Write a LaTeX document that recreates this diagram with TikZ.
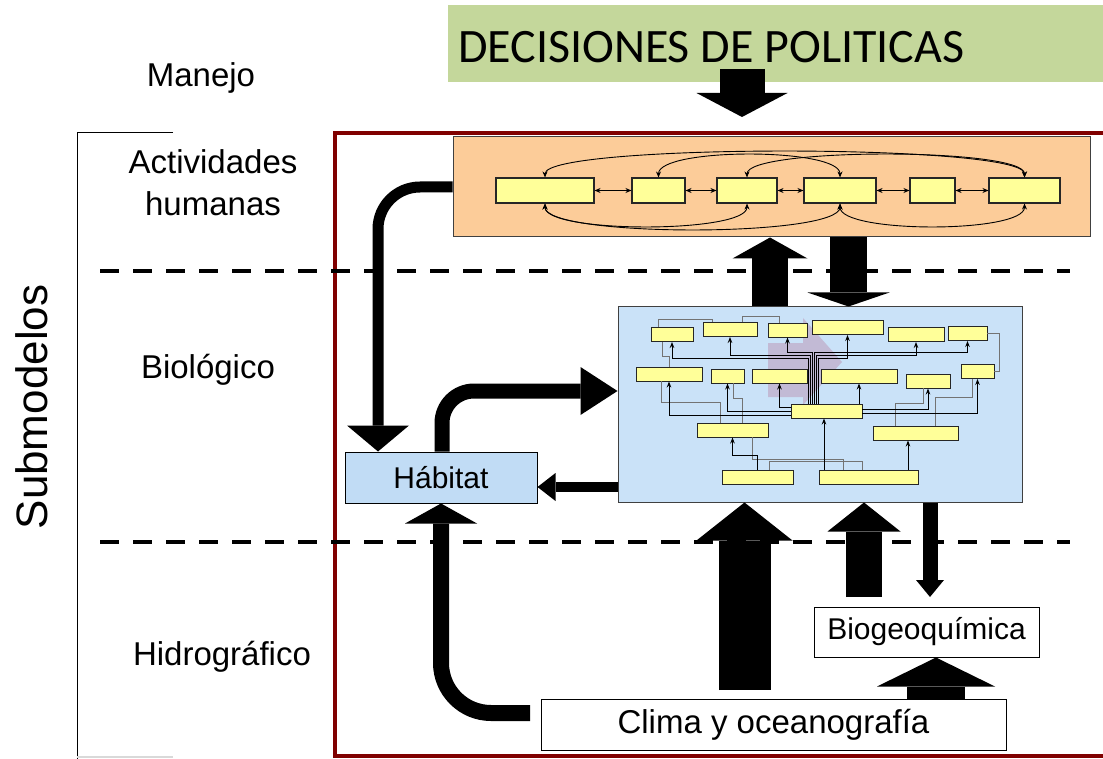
\documentclass[tikz,border=0pt]{standalone}
\usepackage{fontspec}
\setmainfont{Liberation Sans}
\newfontfamily\calibri{Carlito}
\usetikzlibrary{arrows.meta}
\definecolor{redframe}{RGB}{128,0,0}
\definecolor{greenbox}{RGB}{196,215,155}
\definecolor{orangebox}{RGB}{252,204,153}
\definecolor{bluebox}{RGB}{202,226,248}
\definecolor{habbox}{RGB}{193,220,245}
\definecolor{ylw}{RGB}{255,255,153}
\definecolor{mauve}{RGB}{190,160,190}

\begin{document}
\begin{tikzpicture}[x=1pt,y=-1pt,
  lbl/.style={font=\fontsize{33}{42}\selectfont, align=center},
  sbox/.style={draw, line width=1pt, inner sep=0pt},
  ybox/.style={draw=black!85, fill=ylw, line width=0.9pt, inner sep=0pt, minimum height=14pt},
  hbox/.style={ybox, minimum height=25pt, line width=1.1pt},
  blk/.style n args={3}{line width=#1, -{Triangle[length=#2,width=#3,line width=0pt]}},
  sa/.style={line width=0.9pt, {Stealth[length=6pt,width=5pt]}-{Stealth[length=6pt,width=5pt]}},
  fa/.style={line width=1pt, -{Stealth[length=6pt,width=4.5pt]}},
  gl/.style={draw=black!55, line width=0.8pt},
  sep/.style={line width=4pt, dash pattern=on 19pt off 14pt}
]
\useasboundingbox (0,0) rectangle (1103,759);

\node[fill=greenbox, minimum width=655pt, minimum height=77pt, inner xsep=10pt, inner ysep=0pt,
  text height=40pt, text depth=1pt,
  font=\calibri\fontsize{48}{50}\selectfont] (dec) at (775.5,43.5) {\hbox to 635pt{DECISIONES DE POLITICAS\hfil}};

\draw[redframe, line width=4pt] (335,133) rectangle (1112,756);
\draw[line width=1pt] (173,133) -- (77,133) -- (77,762);
\draw[black!15, line width=1.5pt] (77,757) -- (173,757);

\node[lbl] (manejo) at (201,78) {Manejo};
\node[lbl] (acthum) at (213,183) {Actividades\\humanas};
\node[lbl] (biol) at (208,370) {Biológico};
\node[lbl] (hidro) at (222,657) {Hidrográfico};
\node[font=\fontsize{44}{50}\selectfont, rotate=90] (submod) at (32,407) {Submodelos};

\draw[sep] (100,271) -- (1070,271);
\draw[sep] (100,542) -- (1070,542);

\node[sbox, fill=orangebox, draw=black!75, minimum width=637pt, minimum height=100pt] (act) at (771.5,187) {};
\node[sbox, fill=bluebox, draw=black!75, minimum width=404pt, minimum height=195pt] (bio) at (820,404.5) {};
\fill[mauve, opacity=0.6] (768,343) -- (803,343) -- (803,318) -- (842,362) -- (803,405) -- (803,397) -- (768,397) -- cycle;
\node[sbox, fill=habbox, minimum width=192pt, minimum height=51pt, font=\fontsize{30}{36}\selectfont] (hab) at (441,477.5) {Hábitat};
\node[sbox, fill=white, minimum width=225pt, minimum height=50pt, font=\fontsize{30}{36}\selectfont] (biogeo) at (926.5,632) {Biogeoquímica};
\node[sbox, fill=white, minimum width=465pt, minimum height=51pt, font=\fontsize{33}{40}\selectfont] (clima) at (773.5,724.5) {Clima y oceanografía};

\foreach \n/\cx/\w in {1/545/98, 2/658.5/53, 3/747/60, 4/840/72, 5/932.5/45, 6/1024.5/71}
  \node[hbox, minimum width=\w pt] (h\n) at (\cx,190.5) {};
\foreach \a/\b in {1/2, 2/3, 3/4, 4/5, 5/6}
  \draw[sa] (h\a) -- (h\b);
\draw[sa] (h1.north) .. controls +(0,-34) and +(0,-34) .. (h6.north);
\draw[sa] (h2.north) .. controls +(0,-30) and +(0,-30) .. (h4.north);
\draw[sa] (h3.north) .. controls +(0,-30) and +(0,-30) .. (h6.north);
\draw[sa] (h1.south) .. controls +(0,30) and +(0,30) .. (h3.south);
\draw[sa] (h1.south) .. controls +(0,34) and +(0,34) .. (h4.south);
\draw[sa] (h4.south) .. controls +(0,30) and +(0,30) .. (h6.south);

\foreach \n/\cx/\cy/\w in {a/672/334.5/42, b/730/329.5/54, c/787.5/330/39, d/847.5/327.5/71,
    e/916/334.5/56, f/967.5/333.5/39, g/669/374/66, h/727.5/376/33, i/779.5/376/55,
    j/859/376/76, k/928/381/44, l/977.5/371.5/33, m/826.5/411/71, n/732.5/430/71,
    o/915.5/433/85, p/757.5/477/71, q/868.5/477/99}
  \node[ybox, minimum width=\w pt] (\n) at (\cx,\cy) {};

\draw[gl] ([xshift=-12pt]n.north) -- ++(0,-20) -| ([xshift=-8pt]g.south);
\draw[gl] ([xshift=10pt]n.north) -- ++(0,-24) -| ([xshift=6pt]h.south);
\draw[gl] ([xshift=-20pt]o.north) -- ++(0,-22) -| ([xshift=-5pt]k.south);
\draw[gl] ([xshift=20pt]o.north) -- ++(0,-28) -| ([xshift=-5pt]l.south);
\draw[gl] ([xshift=12pt]p.north) -- ++(0,-8) -| ([xshift=-6pt]q.north);
\draw[gl] ([xshift=-25pt]q.north) -- ++(0,-10) -| ([xshift=20pt]n.south);
\draw[gl] ([xshift=-14pt]a.north) -- ++(0,-8) -| ([xshift=-18pt]b.north);
\draw[gl] ([xshift=12pt]b.north) -- ++(0,-6) -| ([xshift=-8pt]c.north);
\draw[gl] (g.north) -- ++(0,-10) -| ([xshift=-10pt]a.south);
\draw[gl] (f.east) -- ++(12,0) |- (l.east);

\foreach \t/\x/\lv in {a/808/358, b/810/355, c/812/352, d/818/358, e/816/355, f/814/352}
  \draw[fa] (m.north -| \x,0) |- (\t.south |- 0,\lv) -- (\t.south);
\foreach \t/\lv in {i/407, h/411, g/415}
  \draw[fa] (m.west |- 0,\lv) -| (\t.south);
\foreach \t/\lv in {k/409, l/413}
  \draw[fa] (m.east |- 0,\lv) -| (\t.south);
\draw[fa] (m.north -| j.south) -- (j.south);
\draw[fa] (q.north -| 824,0) -- (m.south -| 824,0);
\draw[fa] (q.north -| 908,0) -- (o.south -| 908,0);
\draw[fa] (p.north) -- ++(0,-14) -| (n.south);

\coordinate (d0) at (742,69);
\coordinate (d1) at (742,117);
\draw[blk={45pt}{24pt}{91pt}] (d0) -- (d1);
\draw[blk={36pt}{21pt}{75pt}] (bio.north -| 770,0) -- (act.south -| 770,0);
\draw[blk={37pt}{14pt}{82pt}] (act.south -| 848.5,0) -- (bio.north -| 848.5,0);
\draw[blk={11pt}{26pt}{62pt}, rounded corners=42pt] (act.west) -- (378,187) -- (hab.north -| 378,0);
\draw[blk={15pt}{37pt}{48pt}, rounded corners=32pt] (hab.north -| 442,0) -- (442,391) -- (bio.west |- 0,391);
\draw[blk={10pt}{18pt}{28pt}] (bio.west |- 0,487) -- (hab.east |- 0,487);

\coordinate (c0) at (744.5,690);
\coordinate (c1) at (864,597);
\coordinate (c2) at (530,713);
\coordinate (b1) at (930,597);
\draw[blk={52pt}{38pt}{96pt}] (c0) -- (bio.south -| c0);
\draw[blk={36pt}{29pt}{73pt}] (c1) -- (bio.south -| c1);
\draw[blk={15pt}{17pt}{28pt}] (bio.south -| b1) -- (b1);
\draw[blk={58pt}{29pt}{118pt}] (clima.north -| 936,0) -- (biogeo.south -| 936,0);
\draw[blk={16pt}{20pt}{72pt}, rounded corners=50pt] (c2) -- (441,713) -- (hab.south -| 441,0);
\end{tikzpicture}
\end{document}
